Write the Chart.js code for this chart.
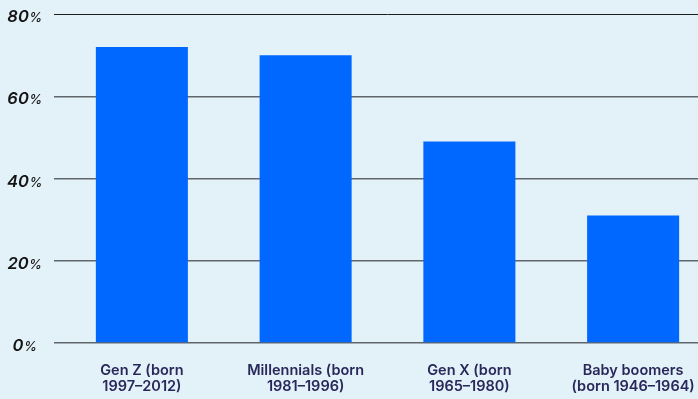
<!DOCTYPE html>
<html>
<head>
<meta charset="utf-8">
<script src="https://cdn.jsdelivr.net/npm/chart.js@4/dist/chart.umd.min.js"></script>
<style>
  html, body { margin: 0; padding: 0; background: #e3f1f9; overflow: hidden; }
  #wrap { position: relative; width: 715px; height: 399px; }
</style>
</head>
<body>
<div id="wrap"><canvas id="chart"></canvas></div>
<script>
// Share by generation
const generations = [
  ["Gen Z (born", "1997–2012)"],
  ["Millennials (born", "1981–1996)"],
  ["Gen X (born", "1965–1980)"],
  ["Baby boomers", "(born 1946–1964)"],
];
const shares = [72, 70, 49, 31];
const yTicks = [0, 20, 40, 60, 80];

// y labels drawn by hand so the % sign can be smaller than the number
const percentLabels = {
  id: "percentLabels",
  afterDraw(chart) {
    const y = chart.scales.y;
    const ctx = chart.ctx;
    ctx.save();
    ctx.fillStyle = "#141414";
    ctx.textBaseline = "alphabetic";
    ctx.textAlign = "left";
    yTicks.forEach(function (v) {
      const base = y.getPixelForValue(v) + 8;
      const num = String(v);
      ctx.font = "italic 600 16.5px Inter";
      const wNum = ctx.measureText(num).width;
      ctx.font = "italic 500 13px Inter";
      const wPct = ctx.measureText("%").width;
      const x = 24.5 - (wNum + wPct) / 2;
      ctx.font = "italic 600 16.5px Inter";
      ctx.fillText(num, x, base);
      ctx.font = "italic 500 13px Inter";
      ctx.fillText("%", x + wNum + 0.5, base);
    });
    ctx.restore();
  },
};

new Chart(document.getElementById("chart"), {
  type: "bar",
  data: {
    labels: generations,
    datasets: [
      {
        data: shares,
        backgroundColor: "#0068ff",
        categoryPercentage: 1,
        barPercentage: 0.562,
      },
    ],
  },
  options: {
    responsive: true,
    maintainAspectRatio: false,
    animation: false,
    layout: { padding: { top: 14, left: 0, right: 0, bottom: 0 } },
    plugins: { legend: { display: false }, tooltip: { enabled: false } },
    scales: {
      x: {
        grid: { display: false },
        border: { display: false },
        ticks: {
          color: "#29285a",
          font: { family: "Inter", size: 14.5, weight: "600", lineHeight: 1.15 },
          padding: 11,
          maxRotation: 0,
          autoSkip: false,
        },
        afterFit(scale) { scale.height = 56; },
      },
      y: {
        min: 0,
        max: 80,
        afterBuildTicks(scale) {
          scale.ticks = yTicks.map(function (v) { return { value: v }; });
        },
        border: { display: false },
        grid: {
          drawTicks: true,
          tickLength: 6,
          color: function (c) { return c.tick && c.tick.value === 80 ? "#1c1c1c" : "#60666c"; },
          lineWidth: function (c) { return c.tick && c.tick.value === 80 ? 1 : 1.5; },
        },
        ticks: { display: false },
        afterFit(scale) { scale.width = 60; },
      },
    },
  },
  plugins: [percentLabels],
});
</script>
</body>
</html>
